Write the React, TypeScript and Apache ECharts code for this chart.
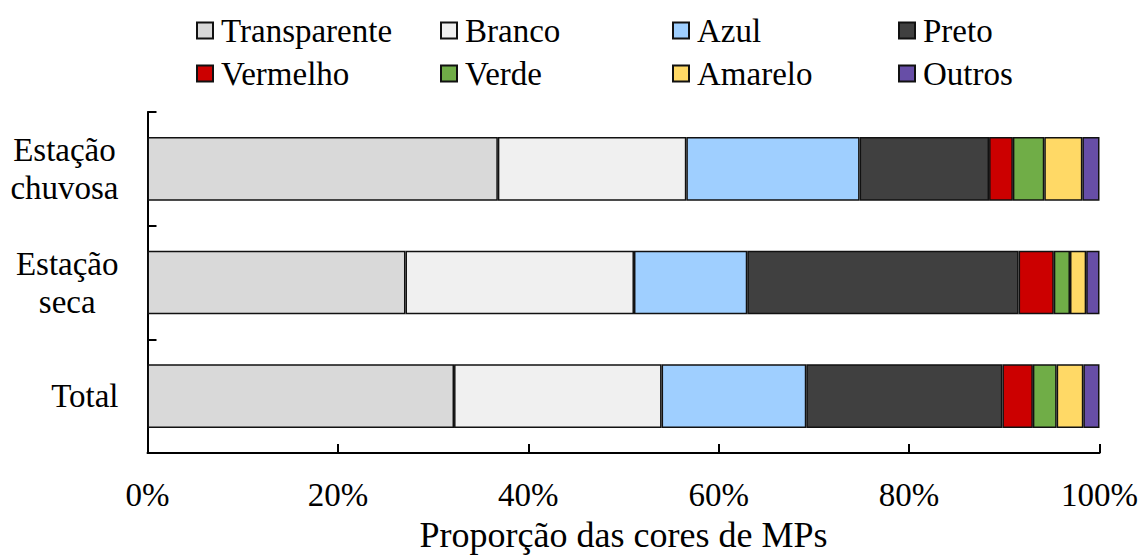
import React, { useEffect, useRef } from "react";
import * as echarts from "echarts";

const categories = ["Estação\nchuvosa", "Estação\nseca", "Total"];
const seriesNames = ["Transparente", "Branco", "Azul", "Preto", "Vermelho", "Verde", "Amarelo", "Outros"];
const transparente = [36.8, 27.1, 32.2];
const branco = [19.8, 24.0, 21.8];
const azul = [18.2, 11.9, 15.2];
const preto = [13.6, 28.5, 20.6];
const vermelho = [2.5, 3.7, 3.2];
const verde = [3.3, 1.7, 2.5];
const amarelo = [4.0, 1.7, 2.8];
const outros = [1.8, 1.4, 1.7];
const seriesValues = [transparente, branco, azul, preto, vermelho, verde, amarelo, outros];
const colors = ["#d9d9d9", "#f0f0f0", "#9fcfff", "#404040", "#cc0000", "#70ad47", "#ffd966", "#674ea7"];
const xTicks = [0, 20, 40, 60, 80, 100];

const FONT = "Times New Roman, Liberation Serif, serif";
const legendPos = [
  [196, 14], [440, 14], [672, 14], [898, 14],
  [196, 57], [440, 57], [672, 57], [898, 57],
];

export default function App() {
  const ref = useRef<HTMLDivElement>(null);
  useEffect(() => {
    if (!ref.current) return;
    const chart = echarts.init(ref.current, undefined, { renderer: "svg" });
    chart.setOption({
      animation: false,
      backgroundColor: "#ffffff",
      textStyle: { fontFamily: FONT, color: "#000" },
      legend: seriesNames.map((n, i) => ({
        data: [n],
        left: legendPos[i][0],
        top: legendPos[i][1],
        icon: "rect",
        itemWidth: 16,
        itemHeight: 16,
        padding: 0,
        textStyle: { fontFamily: FONT, fontSize: 33, color: "#000", padding: [0, 0, 0, 3] },
        selectedMode: false,
      })),
      grid: { left: 147.5, right: 41.5, top: 112, bottom: 102, containLabel: false, outerBoundsMode: "none" },
      xAxis: {
        type: "value",
        min: xTicks[0],
        max: xTicks[xTicks.length - 1],
        interval: 20,
        name: "Proporção das cores de MPs",
        nameLocation: "middle",
        nameGap: 62,
        nameTextStyle: { fontFamily: FONT, fontSize: 36, color: "#000", lineHeight: 38 },
        axisLine: { show: true, lineStyle: { color: "#000", width: 2 } },
        axisTick: { show: true, inside: true, length: 9, lineStyle: { color: "#000", width: 2 } },
        axisLabel: { formatter: "{value}%", fontFamily: FONT, fontSize: 33, color: "#000", margin: 25 },
        splitLine: { show: false },
      },
      yAxis: {
        type: "category",
        data: categories,
        inverse: true,
        axisLine: { show: true, lineStyle: { color: "#000", width: 2 } },
        axisTick: { show: true, inside: true, length: 9, lineStyle: { color: "#000", width: 2 } },
        axisLabel: {
          margin: 29,
          align: "right",
          formatter: (v: string) => v.split("\n").map((s) => `{c|${s}}`).join("\n"),
          rich: { c: { fontFamily: FONT, fontSize: 33, color: "#000", align: "center", lineHeight: 38 } },
        },
      },
      series: seriesNames.map((n, i) => ({
        name: n,
        type: "bar",
        stack: "total",
        barWidth: "56%",
        data: seriesValues[i],
        itemStyle: { color: colors[i], borderColor: "#111111", borderWidth: 1.5 },
      })),
    });
    return () => chart.dispose();
  }, []);
  return <div ref={ref} style={{ width: 1141, height: 555, position: "absolute", left: 0, top: 0 }} />;
}
